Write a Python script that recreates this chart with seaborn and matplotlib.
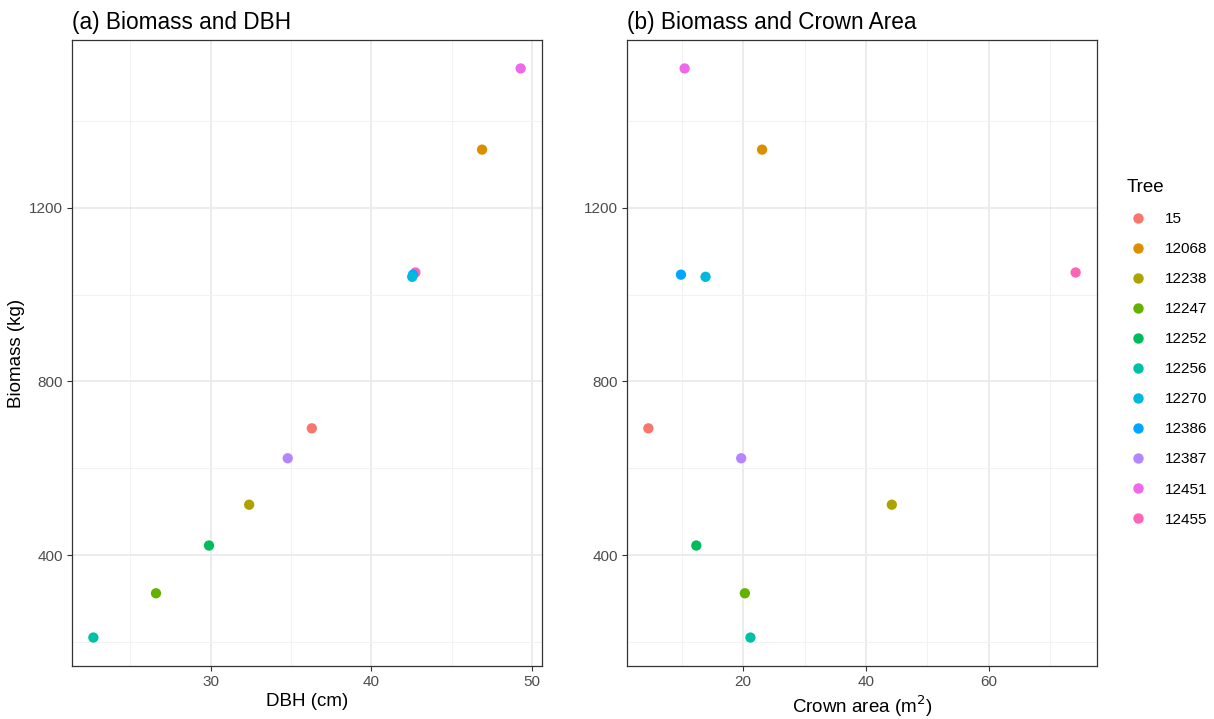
import numpy as np
import pandas as pd
import matplotlib
matplotlib.use("Agg")
import matplotlib.pyplot as plt
import seaborn as sns
from matplotlib.lines import Line2D

trees = ["15", "12068", "12238", "12247", "12252", "12256", "12270",
         "12386", "12387", "12451", "12455"]
dbh = [36.3, 46.9, 32.4, 26.6, 29.9, 22.7, 42.55, 42.6, 34.8, 49.3, 42.75]
crown = [4.6, 23.1, 44.2, 20.3, 12.4, 21.2, 13.9, 9.9, 19.7, 10.5, 74.1]
biomass = [692, 1334, 516, 312, 422, 210, 1041, 1046, 623, 1521, 1051]
colors = ["#F8766D", "#DB8E00", "#AEA200", "#64B200", "#00BD5C", "#00C1A7",
          "#00BADE", "#00A6FF", "#B385FF", "#EF67EB", "#FF63B6"]

df = pd.DataFrame({"Tree": trees, "DBH": dbh, "Crown": crown, "Biomass": biomass})
df["Tree"] = pd.Categorical(df["Tree"], categories=trees, ordered=True)
palette = dict(zip(trees, colors))

sns.set_style("white")
plt.rcParams["font.family"] = ["Liberation Sans", "DejaVu Sans"]
plt.rcParams["text.color"] = "black"
plt.rcParams["axes.labelcolor"] = "black"

fig = plt.figure(figsize=(12.14, 7.19), dpi=100)
axL = fig.add_axes([72 / 1214, 53 / 719, 470 / 1214, 626 / 719])
axR = fig.add_axes([627 / 1214, 53 / 719, 470 / 1214, 626 / 719])

draw = df.iloc[::-1]

def expand(vals, f=0.05):
    lo, hi = min(vals), max(vals)
    r = hi - lo
    return lo - f * r, hi + f * r

def style(ax, xcol, xmajor, xminor, title, xlabel, ylabel):
    sns.scatterplot(data=draw, x=xcol, y="Biomass", hue="Tree", palette=palette,
                    hue_order=trees, s=55, linewidth=0, ax=ax, legend=False, zorder=3)
    ax.set_xlim(*expand(df[xcol]))
    ax.set_ylim(*expand(df["Biomass"]))
    ax.set_xticks(xmajor)
    ax.set_xticks(xminor, minor=True)
    ax.set_yticks([400, 800, 1200])
    ax.set_yticks([200, 600, 1000, 1400], minor=True)
    ax.grid(which="major", color="#EBEBEB", linewidth=1.3, zorder=0)
    ax.grid(which="minor", color="#F2F2F2", linewidth=0.8, zorder=0)
    ax.set_axisbelow(True)
    for sp in ax.spines.values():
        sp.set_color("#333333")
        sp.set_linewidth(0.9)
    ax.tick_params(which="major", length=3.5, width=0.8, color="#333333",
                   labelsize=11, labelcolor="#4D4D4D", direction="out",
                   bottom=True, left=True, pad=3)
    ax.tick_params(which="minor", length=0)
    ax.set_xlabel(xlabel, fontsize=13.5, color="black", labelpad=3)
    ax.set_ylabel(ylabel, fontsize=13.5, color="black", labelpad=3)
    ax.set_title(title, loc="left", fontsize=16.3, pad=8, color="black")

style(axL, "DBH", [30, 40, 50], [25, 35, 45], "(a) Biomass and DBH",
      "DBH (cm)", "Biomass (kg)")
style(axR, "Crown", [20, 40, 60], [10, 30, 50, 70], "(b) Biomass and Crown Area",
      r"Crown area (m$^{2}$)", "")
axR.set_ylabel("")

handles = [Line2D([0], [0], marker="o", linestyle="", markersize=7.5,
                  markerfacecolor=c, markeredgewidth=0) for c in colors]
leg = fig.legend(handles, trees, title="Tree", loc="upper left",
                 bbox_to_anchor=(1121 / 1214, 1 - 173 / 719), frameon=False,
                 fontsize=11, title_fontsize=13.5, labelspacing=1.05,
                 handletextpad=1.05, handlelength=1.4, borderaxespad=0)
leg._legend_box.align = "left"
for t in leg.get_texts():
    t.set_color("black")
leg.get_title().set_color("black")

fig.savefig("out.png", dpi=100)
